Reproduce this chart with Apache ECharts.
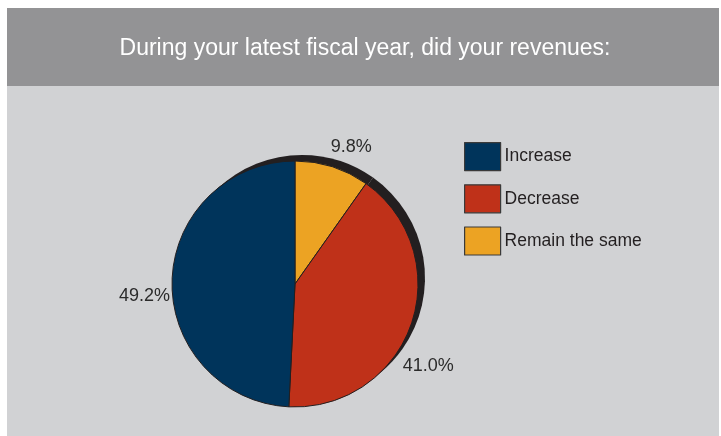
<!DOCTYPE html>
<html>
<head>
<meta charset="utf-8">
<script src="https://cdn.jsdelivr.net/npm/echarts@6/dist/echarts.min.js"></script>
<style>
  html, body { margin: 0; padding: 0; background: #ffffff; }
  #chart { width: 721px; height: 436px; }
</style>
</head>
<body>
<div id="chart"></div>
<script>
// Survey answers, drawn clockwise from 12 o'clock
const categories = ['Remain the same', 'Decrease', 'Increase'];
const shares = [9.8, 41.0, 49.2];
const legendOrder = ['Increase', 'Decrease', 'Remain the same'];
const titleText = 'During your latest fiscal year, did your revenues:';

const sliceColors = { 'Increase': '#00345b', 'Decrease': '#bf3119', 'Remain the same': '#eca323' };
// nudges for the percentage labels around the rim
const labelNudge = { 'Increase': [11, 15], 'Decrease': [-21, 39], 'Remain the same': [-9, -12] };
const FONT = '"Liberation Sans", Arial, Helvetica, sans-serif';

const chart = echarts.init(document.getElementById('chart'), null, { renderer: 'canvas' });

const slices = categories.map((name, i) => ({
  name: name,
  value: shares[i],
  itemStyle: { color: sliceColors[name] },
  label: { offset: labelNudge[name] }
}));

chart.setOption({
  backgroundColor: '#ffffff',
  animation: false,
  graphic: [
    { type: 'rect', z: -10, shape: { x: 7, y: 8, width: 712, height: 78 }, style: { fill: '#939395' } },
    { type: 'rect', z: -10, shape: { x: 7, y: 86, width: 712, height: 350 }, style: { fill: '#d1d2d4' } }
  ],
  title: {
    text: titleText,
    left: 360,
    top: 32,
    textAlign: 'center',
    textStyle: { color: '#ffffff', fontFamily: FONT, fontSize: 23, fontWeight: 'normal' }
  },
  legend: {
    data: legendOrder,
    orient: 'vertical',
    left: 459,
    top: 137,
    icon: 'rect',
    itemWidth: 36,
    itemHeight: 28,
    itemGap: 13,
    selectedMode: false,
    itemStyle: { borderColor: '#3a3a3a', borderWidth: 1.2 },
    textStyle: { color: '#231f20', fontFamily: FONT, fontSize: 17.5, padding: [0, 0, 0, -1] }
  },
  series: [
    {
      // the revenue breakdown
      type: 'pie',
      z: 3,
      center: [295, 284],
      radius: 123,
      startAngle: 90,
      clockwise: true,
      silent: true,
      itemStyle: { borderColor: '#231f20', borderWidth: 1 },
      label: {
        show: true,
        position: 'outside',
        formatter: p => p.value.toFixed(1) + '%',
        color: '#2b2b2b',
        fontFamily: FONT,
        fontSize: 18
      },
      labelLine: { show: false, length: 8, length2: 0 },
      data: slices
    },
    {
      // dark drop edge behind the pie, built from the same shares
      type: 'pie',
      z: 2,
      center: [302, 278],
      radius: 123,
      startAngle: 90,
      clockwise: true,
      silent: true,
      label: { show: false },
      labelLine: { show: false },
      itemStyle: { color: '#231f20' },
      data: shares.slice()
    }
  ]
});
</script>
</body>
</html>
